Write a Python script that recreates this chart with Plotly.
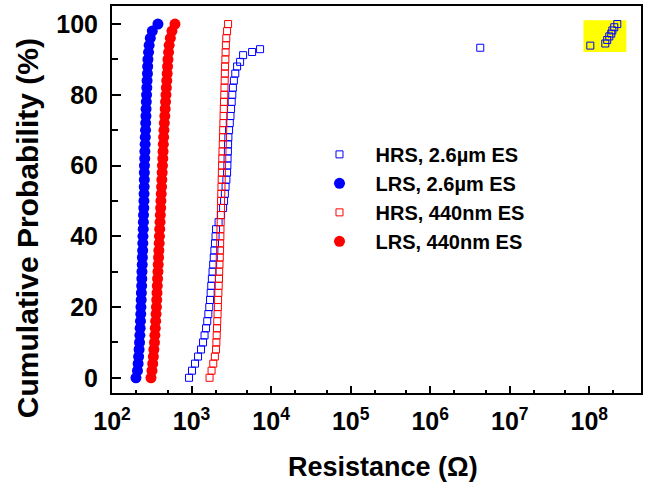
import plotly.graph_objects as go

# ---------------- data ----------------
prob = [0, 2, 4, 6, 8, 10, 12, 14, 16, 18, 20, 22, 24, 26, 28, 30, 32, 34, 36, 38, 40,
        42, 44, 46, 48, 50, 52, 54, 56, 58, 60, 62, 64, 66, 68, 70, 72, 74, 76, 78, 80,
        82, 84, 86, 88, 90, 92, 94, 96, 98, 100]

lrs_26um = [200, 209, 213, 216, 219, 222, 224, 226, 228, 230, 231, 233, 234, 236, 237, 238,
            240, 241, 243, 244, 245, 247, 248, 249, 251, 252, 253, 254, 255, 255, 256, 258,
            259, 261, 262, 264, 265, 267, 268, 270, 272, 274, 276, 279, 281, 283, 288, 293,
            303, 321, 378]

lrs_440nm = [309, 318, 325, 331, 336, 342, 346, 350, 354, 358, 362, 365, 368, 371, 374, 378,
             381, 385, 388, 392, 395, 398, 402, 405, 409, 412, 416, 420, 423, 427, 431, 435,
             438, 442, 446, 450, 455, 461, 466, 471, 477, 482, 488, 494, 499, 505, 514, 523,
             541, 567, 619]

hrs_440nm = [1684, 1785, 1875, 1964, 2033, 2052, 2070, 2089, 2105, 2124, 2143, 2155, 2175,
             2194, 2213, 2225, 2245, 2264, 2283, 2290, 2303, 2310, 2323, 2330, 2343, 2350,
             2364, 2378, 2392, 2405, 2419, 2433, 2448, 2469, 2484, 2498, 2513, 2527, 2542,
             2557, 2579, 2594, 2609, 2624, 2639, 2662, 2678, 2701, 2733, 2797, 2879]

prob_hrs_26um = [0, 2, 4, 6, 8, 10, 12, 14, 16, 18, 20, 22, 24, 26, 28, 30, 32, 34, 36, 38, 40,
                 42, 44, 46, 48, 50, 52, 54, 56, 58, 60, 62, 64, 66, 68, 70, 72, 74, 76, 78, 80,
                 82, 84, 86, 88, 89.3, 91.2, 92.1, 92.9,
                 93.3, 93.9, 94.5, 95.5, 96.5, 97.3, 98.2, 99.1, 100]
hrs_26um = [930, 1014, 1106, 1207, 1316, 1395, 1457, 1522, 1575, 1626, 1670, 1709, 1739, 1769,
            1800, 1837, 1869, 1902, 1936, 1970, 2004, 2033, 2186, 2350, 2491, 2564, 2624, 2678,
            2741, 2797, 2821, 2837, 2862, 2879, 2904, 2964, 3025, 3087, 3141, 3196, 3252, 3309,
            3405, 3544, 3738, 4078, 4447, 5770, 7270,
            4.26e6, 1.03e8, 1.59e8, 1.68e8, 1.785e8, 1.89e8, 1.95e8, 2.06e8, 2.25e8]

x_tick_vals = [1e2, 1e3, 1e4, 1e5, 1e6, 1e7, 1e8]
x_tick_text = ["10<sup>2</sup>", "10<sup>3</sup>", "10<sup>4</sup>", "10<sup>5</sup>",
               "10<sup>6</sup>", "10<sup>7</sup>", "10<sup>8</sup>"]
y_tick_vals = [0, 20, 40, 60, 80, 100]

x_title = "Resistance (Ω)"
y_title = "Cumulative Probability (%)"

BLUE = "#0000FF"
RED = "#FF0000"
FONT = "Liberation Sans, Arial, sans-serif"

fig = go.Figure()

# highlighted outlier cluster (derived from the outlier data)
outl_x = [v for v in hrs_26um if v > 5e7]
outl_y = [p for v, p in zip(hrs_26um, prob_hrs_26um) if v > 5e7]
fig.add_shape(type="rect", xref="x", yref="y",
              x0=min(outl_x) / 1.22, x1=max(outl_x) * 1.3,
              y0=min(outl_y) - 1.8, y1=max(outl_y) + 1.1,
              fillcolor="#FFFF00", line=dict(width=0), layer="below")

fig.add_trace(go.Scatter(x=hrs_26um, y=prob_hrs_26um, mode="markers",
                         name="HRS, 2.6µm ES", legendgroup="a",
                         marker=dict(symbol="square-open", size=7, color=BLUE,
                                     line=dict(width=1, color=BLUE))))
fig.add_trace(go.Scatter(x=lrs_26um, y=prob, mode="markers",
                         name="LRS, 2.6µm ES", legendgroup="b",
                         marker=dict(symbol="circle", size=11, color=BLUE)))
fig.add_trace(go.Scatter(x=hrs_440nm, y=prob, mode="markers",
                         name="HRS, 440nm ES", legendgroup="c",
                         marker=dict(symbol="square-open", size=7, color=RED,
                                     line=dict(width=1, color=RED))))
fig.add_trace(go.Scatter(x=lrs_440nm, y=prob, mode="markers",
                         name="LRS, 440nm ES", legendgroup="d",
                         marker=dict(symbol="circle", size=11, color=RED)))

fig.update_layout(
    width=652, height=485,
    margin=dict(l=112, r=11, t=6, b=92, autoexpand=False),
    paper_bgcolor="white", plot_bgcolor="white",
    font=dict(family=FONT, color="black", weight="bold"),
    legend=dict(x=0.362, y=0.667, xanchor="left", yanchor="top",
                font=dict(size=20, family=FONT, weight="bold"),
                itemwidth=62, tracegroupgap=0, bgcolor="rgba(0,0,0,0)",
                traceorder="grouped"),
    showlegend=True,
    annotations=[
        dict(text=x_title, xref="paper", yref="paper", x=0.512, y=-0.191,
             xanchor="center", yanchor="middle", showarrow=False,
             font=dict(size=27, family=FONT, weight="bold")),
        dict(text=y_title, xref="paper", yref="paper", x=-0.1607, y=0.426,
             xanchor="center", yanchor="middle", showarrow=False, textangle=-90,
             font=dict(size=30, family=FONT, weight="bold")),
    ],
)

fig.update_xaxes(type="log", range=[2, 8.65], automargin=False,
                 tickvals=x_tick_vals, ticktext=x_tick_text,
                 ticks="inside", ticklen=7, tickwidth=2, tickcolor="black",
                 showline=True, linewidth=2, linecolor="black", mirror=True,
                 showgrid=False, zeroline=False,
                 ticklabelstandoff=5,
                 tickfont=dict(size=25, family=FONT, weight="bold"),
                 minor=dict(ticks="inside", ticklen=3, tickwidth=1.5, tickcolor="black",
                            showgrid=False))

fig.update_yaxes(range=[-4.3, 105.1], automargin=False,
                 tickvals=y_tick_vals,
                 ticks="inside", ticklen=9, tickwidth=2, tickcolor="black",
                 showline=True, linewidth=2, linecolor="black", mirror=True,
                 showgrid=False, zeroline=False,
                 ticklabelstandoff=7,
                 tickfont=dict(size=25, family=FONT, weight="bold"),
                 minor=dict(tickvals=[10, 30, 50, 70, 90], ticks="inside", ticklen=6,
                            tickwidth=1.5, tickcolor="black", showgrid=False))

fig.write_html("out.html",
               config={"displayModeBar": False},
               post_script="document.body.style.margin='0';document.body.style.padding='0';"
                           "document.documentElement.style.overflow='hidden';")
